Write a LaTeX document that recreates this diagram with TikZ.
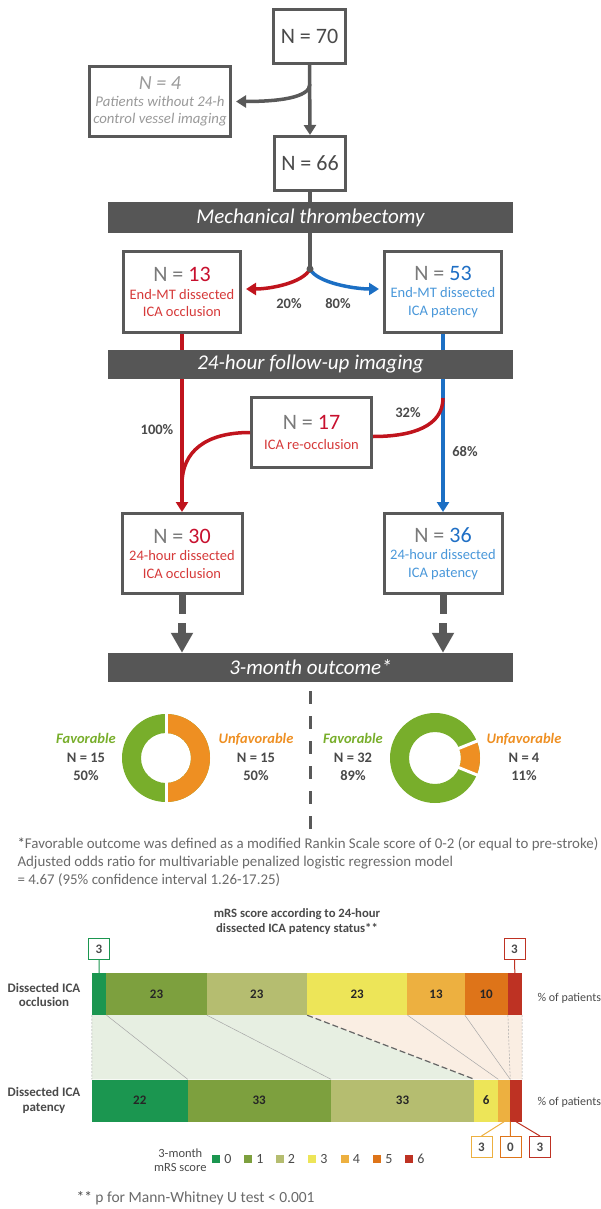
\documentclass[tikz,border=0pt]{standalone}
\usepackage{fontspec}
\setmainfont{Carlito}
\newfontfamily\liningfont{Carlito}
\usepackage{tikz}
\usetikzlibrary{arrows.meta,calc,positioning}

\definecolor{boxgray}{HTML}{595959}
\definecolor{bangray}{HTML}{565656}
\definecolor{darktext}{HTML}{4A4A4A}
\definecolor{ngray}{HTML}{7A7A7A}
\definecolor{lightgray}{HTML}{9A9A9A}
\definecolor{notegray}{HTML}{6A6A6A}
\definecolor{redline}{HTML}{C0141D}
\definecolor{redn}{HTML}{C8102E}
\definecolor{redsub}{HTML}{D63A3A}
\definecolor{blueline}{HTML}{1C6FC4}
\definecolor{bluen}{HTML}{1F6FC5}
\definecolor{bluesub}{HTML}{4A98DA}
\definecolor{favgreen}{HTML}{78AE2B}
\definecolor{unforange}{HTML}{EE8F22}
\definecolor{mrs0}{HTML}{1B9650}
\definecolor{mrs1}{HTML}{7DA03E}
\definecolor{mrs2}{HTML}{B5BD70}
\definecolor{mrs3}{HTML}{EDE558}
\definecolor{mrs4}{HTML}{EDB040}
\definecolor{mrs5}{HTML}{DE7419}
\definecolor{mrs6}{HTML}{BE3223}
\definecolor{greenzone}{HTML}{E7EFE2}
\definecolor{orangezone}{HTML}{FAEEE3}

\begin{document}
\begin{tikzpicture}[x=1pt, y=-1pt,
		box_style/.style={draw=boxgray, line width=3pt, fill=white, inner sep=0pt, align=center, font=\fontsize{14.5}{17.5}\selectfont},
		banner_style/.style={fill=bangray, text=white, minimum width=405pt, inner sep=0pt, font=\fontsize{21}{24}\selectfont\itshape},
		gray_line/.style={draw=boxgray, line width=3.5pt},
		gray_arrow/.style={draw=boxgray, line width=3.5pt, -{Triangle[length=10pt,width=12pt]}},
		red_arrow/.style={draw=redline, line width=3.5pt, -{Triangle[length=10pt,width=12pt]}},
		blue_arrow/.style={draw=blueline, line width=3.5pt, -{Triangle[length=10pt,width=12pt]}},
		stub_style/.style={draw=boxgray, line width=7pt},
		fat_arrow/.style={draw=boxgray, line width=8pt, -{Triangle[length=20pt,width=21pt]}},
		pct_style/.style={text=darktext, font=\fontsize{14.5}{16}\selectfont\bfseries},
		donut_label/.style={align=center, text=darktext, font=\fontsize{14.5}{18.5}\selectfont\bfseries},
		note_style/.style={text=notegray, align=left, font=\fontsize{14.9}{18}\selectfont},
		seg_style/.style={inner sep=0pt, minimum height=42pt, text=black!85, font=\fontsize{13}{13}\selectfont\bfseries},
		call_style/.style={draw, line width=1pt, fill=white, inner sep=0pt, minimum width=21pt, minimum height=21pt, text=darktext, font=\fontsize{13}{13}\selectfont\bfseries},
		leg_sq/.style={inner sep=0pt, minimum size=8pt},
		leg_txt/.style={inner sep=0pt, text=darktext, font=\liningfont\fontsize{14}{14}\selectfont},
		chart_text/.style={align=center, text=darktext, font=\fontsize{12.7}{15}\selectfont\bfseries}]

		\useasboundingbox (0,0) rectangle (600,1209);

		% flow chart boxes
		\node[box_style, minimum width=72pt, minimum height=54pt, text=darktext] (n70) at (309.5,36.5) {\fontsize{22}{22}\selectfont N = 70};
		\node[box_style, minimum width=141pt, minimum height=70pt, text=lightgray, font=\fontsize{14.8}{17}\selectfont\itshape] (n4) at (160,101.5) {{\fontsize{20}{20}\selectfont N = 4}\\Patients without 24-h\\control vessel imaging};
		\node[box_style, minimum width=71pt, minimum height=54pt, text=darktext] (n66) at (310,163.5) {\fontsize{22}{22}\selectfont N = 66};
		\node[box_style, minimum width=117pt, minimum height=81pt, text=redsub] (n13) at (182,292) {{\fontsize{22}{22}\selectfont\color{ngray}N = \color{redn}13}\\End-MT dissected\\ICA occlusion};
		\node[box_style, minimum width=117pt, minimum height=81pt, text=bluesub] (n53) at (443,292) {{\fontsize{22}{22}\selectfont\color{ngray}N = \color{bluen}53}\\End-MT dissected\\ICA patency};
		\node[box_style, minimum width=120pt, minimum height=70pt, text=redsub] (n17) at (311.5,432.5) {{\fontsize{22}{22}\selectfont\color{ngray}N = \color{redn}17}\\[2pt]ICA re-occlusion};
		\node[box_style, minimum width=120pt, minimum height=80pt, text=redsub] (n30) at (182,553.5) {{\fontsize{22}{22}\selectfont\color{ngray}N = \color{redn}30}\\24-hour dissected\\ICA occlusion};
		\node[box_style, minimum width=118pt, minimum height=80pt, text=bluesub] (n36) at (443,553.5) {{\fontsize{22}{22}\selectfont\color{ngray}N = \color{bluen}36}\\24-hour dissected\\ICA patency};

		\coordinate (s1) at (310,84);
		\coordinate (s2) at (310,269);
		\coordinate (m1) at (443,398);
		\coordinate (m2) at (182,484);

		% connectors
		\draw[gray_arrow] (n70.south) -- (n66.north);
		\draw[gray_arrow, shorten >=4pt] (s1) .. controls +(0,14) and +(45,0) .. (n4.east);
		\draw[gray_line] (n66.south) -- (s2);
		\draw[red_arrow, shorten >=4pt] (s2) .. controls +(-7,14) and +(28,0) .. ([yshift=3pt]n13.east);
		\draw[blue_arrow, shorten >=4pt] (s2) .. controls +(7,14) and +(-28,0) .. ([yshift=3pt]n53.west);
		\fill[boxgray] (s2) circle[radius=3.5];
		\draw[red_arrow] (n13.south) -- (n30.north);
		\draw[blue_arrow] (n53.south) -- (n36.north);
		\draw[draw=redline, line width=3.5pt] (m1) .. controls +(0,28) and +(40,0) .. ([yshift=-4pt]n17.east);
		\draw[draw=redline, line width=3.5pt] (n17.west) .. controls +(-45,0) and +(0,-32) .. (m2);

		\node[pct_style] (p20) at (289,304) {20\%};
		\node[pct_style] (p80) at (338,304) {80\%};
		\node[pct_style] (p100) at (157,430) {100\%};
		\node[pct_style] (p32) at (408,413) {32\%};
		\node[pct_style] (p68) at (465,452) {68\%};

		% banners
		\node[banner_style, minimum height=31pt] (mt) at (310.5,217.5) {Mechanical thrombectomy};
		\node[banner_style, minimum height=29pt] (fu) at (310.5,364.5) {24-hour follow-up imaging};
		\node[banner_style, minimum height=29pt] (oc) at (310.5,667.5) {3-month outcome*};

		\draw[stub_style] (n30.south) -- ++(0,19);
		\draw[stub_style] (n36.south) -- ++(0,19);
		\draw[fat_arrow] ([yshift=-28pt]n30.south) -- (n30.south |- oc.north);
		\draw[fat_arrow] ([yshift=-28pt]n36.south) -- (n36.south |- oc.north);
		\draw[boxgray, line width=3.5pt, dash pattern=on 13pt off 12pt, shorten <=9pt] (oc.south) -- ++(0,151);

		% donuts
		\coordinate (dl) at (166,758);
		\coordinate (dr) at (435,758);
		\fill[favgreen, even odd rule] (dl) circle[radius=44] circle[radius=25];
		\fill[unforange] ($(dl)+(-90:44)$) arc[start angle=-90, end angle=90, radius=44] -- ($(dl)+(90:25)$) arc[start angle=90, end angle=-90, radius=25] -- cycle;
		\draw[white, line width=3pt] ($(dl)+(0,-47)$) -- ($(dl)+(0,47)$);
		\fill[favgreen, even odd rule] (dr) circle[radius=45] circle[radius=26];
		\fill[unforange] ($(dr)+(-22:45)$) arc[start angle=-22, end angle=22, radius=45] -- ($(dr)+(22:26)$) arc[start angle=22, end angle=-22, radius=26] -- cycle;
		\draw[white, line width=3pt] ($(dr)+(-22:20)$) -- ($(dr)+(-22:49)$);
		\draw[white, line width=3pt] ($(dr)+(22:20)$) -- ($(dr)+(22:49)$);

		\node[donut_label] (fav1) at (86,757) {{\color{favgreen}\itshape Favorable}\\N = 15\\50\%};
		\node[donut_label] (unf1) at (256,757) {{\color{unforange}\itshape Unfavorable}\\N = 15\\50\%};
		\node[donut_label] (fav2) at (353,757) {{\color{favgreen}\itshape Favorable}\\N = 32\\89\%};
		\node[donut_label] (unf2) at (524,757) {{\color{unforange}\itshape Unfavorable}\\N = 4\\11\%};

		\node[note_style, anchor=west] (fn1) at (14,862) {{\color{darktext}*}Favorable outcome was defined as a modified Rankin Scale score of 0-2 (or equal to pre-stroke)\\Adjusted odds ratio for multivariable penalized logistic regression model\\= 4.67 (95\% confidence interval 1.26-17.25)};

		% mRS chart
		\node[chart_text] (ttl) at (297,921.5) {mRS score according to 24-hour\\dissected ICA patency status**};
		\node[chart_text, font=\fontsize{13}{14}\selectfont\bfseries] (row1) at (44,994.5) {Dissected ICA\\occlusion};
		\node[chart_text, font=\fontsize{13}{15}\selectfont\bfseries] (row2) at (44,1100.5) {Dissected ICA\\patency};

		\node[seg_style, fill=mrs0, minimum width=14.33pt] (o0) at (99.17,994) {};
		\node[seg_style, fill=mrs1, minimum width=100.33pt] (o1) at (156.5,994) {23};
		\node[seg_style, fill=mrs2, minimum width=100.33pt] (o2) at (256.83,994) {23};
		\node[seg_style, fill=mrs3, minimum width=100.33pt] (o3) at (357.17,994) {23};
		\node[seg_style, fill=mrs4, minimum width=57.33pt] (o4) at (436,994) {13};
		\node[seg_style, fill=mrs5, minimum width=43pt] (o5) at (486.17,994) {10};
		\node[seg_style, fill=mrs6, minimum width=14.33pt] (o6) at (514.83,994) {};

		\node[seg_style, fill=mrs0, minimum width=95.56pt] (q0) at (139.78,1100.5) {22};
		\node[seg_style, fill=mrs1, minimum width=143.33pt] (q1) at (259.22,1100.5) {33};
		\node[seg_style, fill=mrs2, minimum width=143.33pt] (q2) at (402.56,1100.5) {33};
		\node[seg_style, fill=mrs3, minimum width=23.89pt] (q3) at (486.17,1100.5) {6};
		\node[seg_style, fill=mrs4, minimum width=11.94pt] (q4) at (504.08,1100.5) {};
		\node[seg_style, fill=mrs6, minimum width=11.94pt] (q6) at (516.03,1100.5) {};

		\fill[greenzone] (o0.south west) -- (o2.south east) -- (q2.north east) -- (q0.north west) -- cycle;
		\fill[orangezone] (o2.south east) -- (o6.south east) -- (q6.north east) -- (q2.north east) -- cycle;
		\draw[black!35, line width=0.5pt, dash pattern=on 2pt off 1.5pt] (o0.south west) -- (q0.north west);
		\draw[black!35, line width=0.5pt, dash pattern=on 2pt off 1.5pt] (o6.south east) -- (q6.north east);
		\draw[black!35, line width=0.5pt, dash pattern=on 2pt off 1.5pt] (o5.south east) -- (q4.north east);
		\draw[black!35, line width=0.5pt] (o0.south east) -- (q0.north east);
		\draw[black!35, line width=0.5pt] (o1.south east) -- (q1.north east);
		\draw[black!60, line width=1.2pt, dash pattern=on 6pt off 3pt] (o2.south east) -- (q2.north east);
		\draw[black!35, line width=0.5pt] (o3.south east) -- (q3.north east);
		\draw[black!35, line width=0.5pt] (o4.south east) -- (q4.north east);

		\node[call_style, draw=mrs0] (c0) at (99,949) {3};
		\node[call_style, draw=mrs6] (c6) at (514.5,949) {3};
		\node[call_style, draw=mrs4] (b4) at (481.5,1147) {3};
		\node[call_style, draw=mrs5] (b5) at (510.5,1147) {0};
		\node[call_style, draw=mrs6] (b6) at (540,1147) {3};
		\draw[mrs0, line width=1pt] (c0.south) -- (o0.north);
		\draw[mrs6, line width=1pt] (c6.south) -- (o6.north);
		\draw[mrs4, line width=1pt] (q4.south) -- (b4.north);
		\draw[mrs5, line width=1pt] (q4.south east) -- (b5.north);
		\draw[mrs6, line width=1pt] (q6.south) -- (b6.north);

		\node[text=darktext, anchor=west, font=\fontsize{12}{12}\selectfont] (u1) at (534,998) {\% of patients};
		\node[text=darktext, anchor=west, font=\fontsize{12}{12}\selectfont] (u2) at (534,1102) {\% of patients};

		% legend
		\node[align=center, anchor=east, text=darktext, font=\fontsize{12.5}{14}\selectfont] (lgt) at (210,1160) {3-month\\mRS score};
		\node[leg_sq, fill=mrs0] (l0) at (216,1159) {};
		\node[leg_sq, fill=mrs1] (l1) at (248,1159) {};
		\node[leg_sq, fill=mrs2] (l2) at (279.5,1159) {};
		\node[leg_sq, fill=mrs3] (l3) at (312,1159) {};
		\node[leg_sq, fill=mrs4] (l4) at (344.5,1159) {};
		\node[leg_sq, fill=mrs5] (l5) at (377,1159) {};
		\node[leg_sq, fill=mrs6] (l6) at (409,1159) {};
		\node[leg_txt, right=4pt of l0] (t0) {0};
		\node[leg_txt, right=4pt of l1] (t1) {1};
		\node[leg_txt, right=4pt of l2] (t2) {2};
		\node[leg_txt, right=4pt of l3] (t3) {3};
		\node[leg_txt, right=4pt of l4] (t4) {4};
		\node[leg_txt, right=4pt of l5] (t5) {5};
		\node[leg_txt, right=4pt of l6] (t6) {6};

		\node[note_style, anchor=west, font=\fontsize{15.5}{18}\selectfont] (fn2) at (73,1198) {{\color{darktext}**} p for Mann-Whitney U test < 0.001};
\end{tikzpicture}
\end{document}
